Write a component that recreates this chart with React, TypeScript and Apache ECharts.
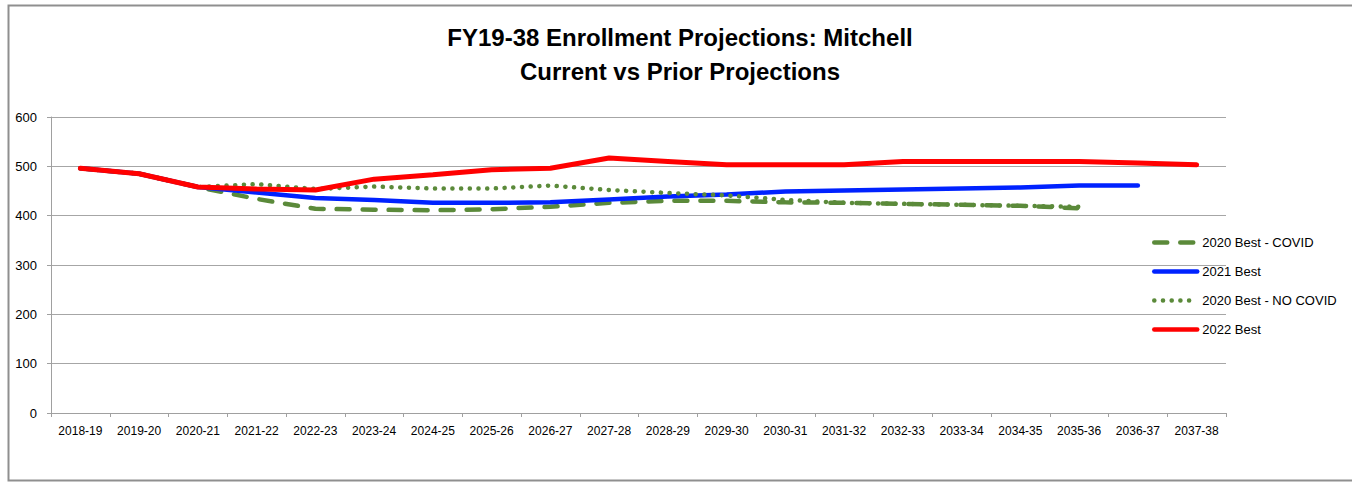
import React, { useEffect, useRef } from "react";
import * as echarts from "echarts";

const categories = [
  "2018-19", "2019-20", "2020-21", "2021-22", "2022-23", "2023-24", "2024-25",
  "2025-26", "2026-27", "2027-28", "2028-29", "2029-30", "2030-31", "2031-32",
  "2032-33", "2033-34", "2034-35", "2035-36", "2036-37", "2037-38",
];

const covid2020 = [496, 485, 458, 434, 414, 412, 411, 413, 418, 426, 430, 430, 427, 426, 424, 422, 420, 415, null, null];
const best2021 = [496, 485, 458, 447, 436, 432, 426, 426, 427, 433, 439, 443, 449, 451, 453, 455, 457, 461, 461, null];
const noCovid2020 = [496, 485, 458, 464, 454, 459, 455, 455, 461, 452, 446, 441, 432, 426, 424, 422, 420, 418, null, null];
const best2022 = [496, 485, 458, 454, 452, 474, 483, 493, 496, 517, 510, 503, 503, 503, 510, 510, 510, 510, 507, 503];

const seriesNames = ["2020 Best - COVID", "2021 Best", "2020 Best - NO COVID", "2022 Best"];
const titleLines = ["FY19-38 Enrollment Projections: Mitchell", "Current vs Prior Projections"];

const FONT = "'Liberation Sans', Arial, sans-serif";

export default function App() {
  const ref = useRef<HTMLDivElement>(null);
  useEffect(() => {
    if (!ref.current) return;
    const chart = echarts.init(ref.current, undefined, { renderer: "svg" });
    const green = "#5b8a3a";
    chart.setOption({
      animation: false,
      backgroundColor: "#ffffff",
      textStyle: { fontFamily: FONT },
      graphic: [
        {
          type: "rect",
          shape: { x: 8.5, y: 5.5, width: 1350, height: 475 },
          style: { fill: "none", stroke: "#8f8f8f", lineWidth: 2 },
          silent: true,
        },
        {
          type: "text",
          x: 680,
          y: 37,
          style: {
            text: titleLines[0],
            font: `bold 24px ${FONT}`,
            fill: "#000",
            align: "center",
            verticalAlign: "middle",
          },
        },
        {
          type: "text",
          x: 680,
          y: 71,
          style: {
            text: titleLines[1],
            font: `bold 24px ${FONT}`,
            fill: "#000",
            align: "center",
            verticalAlign: "middle",
          },
        },
      ],
      legend: {
        orient: "vertical",
        left: 1152,
        top: 236,
        padding: 0,
        itemWidth: 43,
        itemHeight: 14,
        itemGap: 16,
        data: seriesNames,
        itemStyle: { opacity: 0 },
        lineStyle: { width: 4.5, cap: "round" },
        textStyle: { fontFamily: FONT, fontSize: 13, color: "#000" },
      },
      grid: { left: 51, right: 126, top: 117, bottom: 69, containLabel: false },
      xAxis: {
        type: "category",
        data: categories,
        boundaryGap: true,
        axisLine: { lineStyle: { color: "#a0a0a0", width: 1 } },
        axisTick: { show: true, interval: 0, length: 4, lineStyle: { color: "#a0a0a0" } },
        axisLabel: { interval: 0, color: "#000", fontSize: 12, fontFamily: FONT, margin: 12 },
      },
      yAxis: {
        type: "value",
        min: 0,
        max: 600,
        interval: 100,
        axisLine: { show: true, lineStyle: { color: "#a0a0a0", width: 1 } },
        axisTick: { show: true, length: 4, lineStyle: { color: "#a0a0a0" } },
        axisLabel: { color: "#000", fontSize: 13, fontFamily: FONT, margin: 14 },
        splitLine: { show: true, lineStyle: { color: "#a6a6a6", width: 1 } },
      },
      series: [
        {
          name: seriesNames[0],
          type: "line",
          data: covid2020,
          symbol: "none",
          itemStyle: { color: green },
          lineStyle: { color: green, width: 4.5, type: [13, 13], cap: "round" },
        },
        {
          name: seriesNames[1],
          type: "line",
          data: best2021,
          symbol: "none",
          itemStyle: { color: "#0022ff" },
          lineStyle: { color: "#0022ff", width: 4.5, cap: "round" },
        },
        {
          name: seriesNames[2],
          type: "line",
          data: noCovid2020,
          symbol: "none",
          itemStyle: { color: green },
          lineStyle: { color: green, width: 4.5, type: [0.1, 8.6], cap: "round" },
        },
        {
          name: seriesNames[3],
          type: "line",
          data: best2022,
          symbol: "none",
          itemStyle: { color: "#ff0000" },
          lineStyle: { color: "#ff0000", width: 5, cap: "round" },
        },
      ],
    });
    return () => chart.dispose();
  }, []);
  return (
    <div
      ref={ref}
      style={{ position: "absolute", left: 0, top: 0, width: 1352, height: 482 }}
    />
  );
}
